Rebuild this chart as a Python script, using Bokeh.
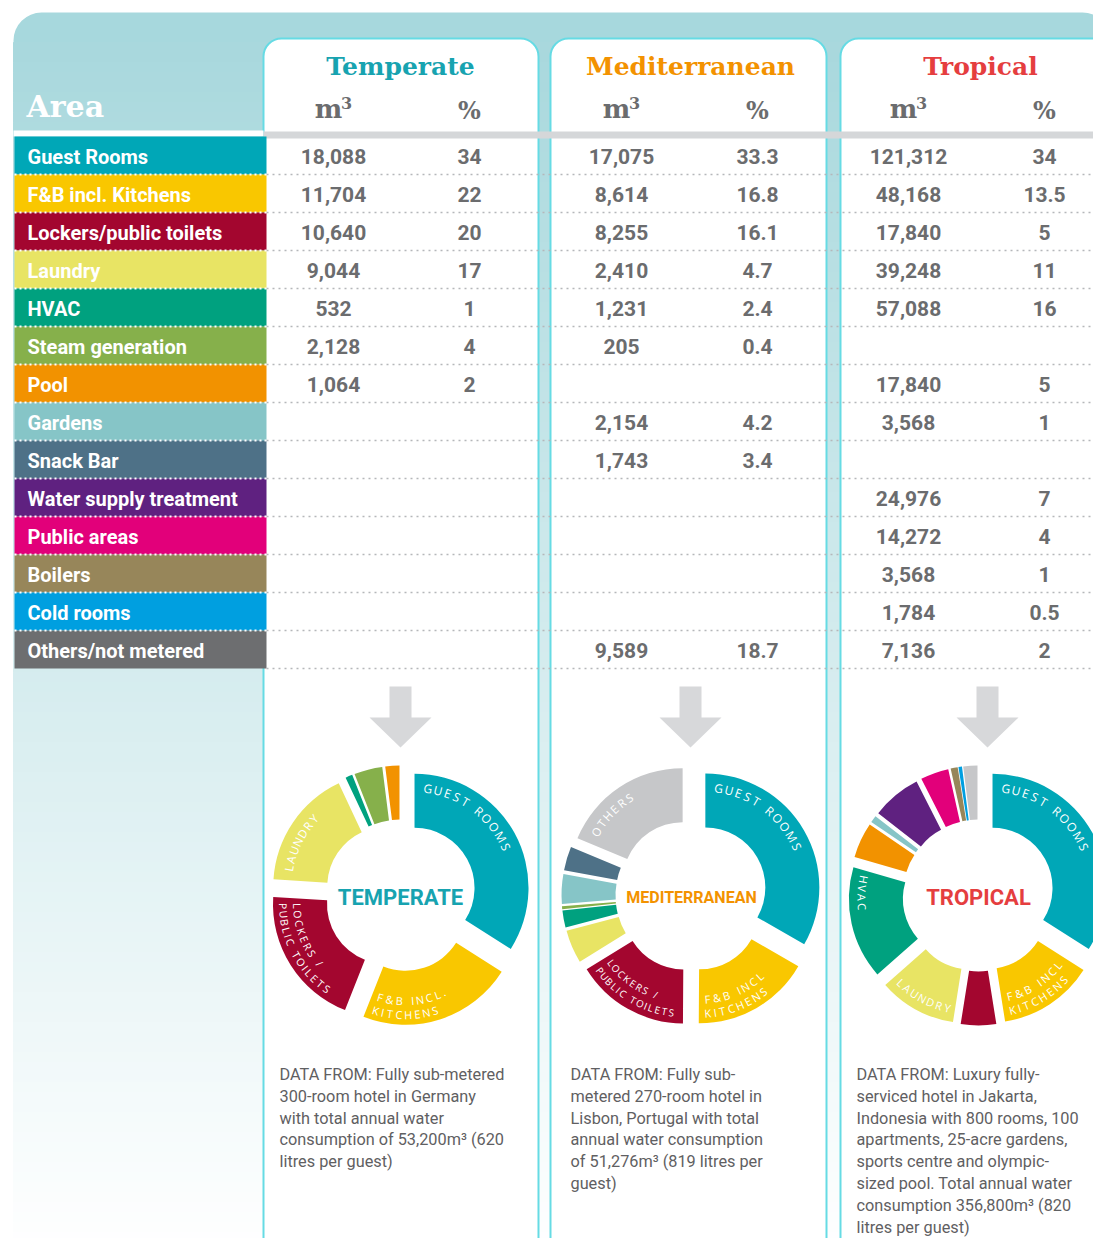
import math
import numpy as np
from bokeh.plotting import figure
from bokeh.models import Range1d
from bokeh.embed import file_html
from bokeh.resources import INLINE
from bokeh.core.properties import value

# ---------------- data ----------------
categories = ["Guest Rooms", "F&B incl. Kitchens", "Lockers/public toilets", "Laundry", "HVAC",
              "Steam generation", "Pool", "Gardens", "Snack Bar", "Water supply treatment",
              "Public areas", "Boilers", "Cold rooms", "Others/not metered"]
cat_colors = ["#00a7b7", "#f9c700", "#a3062f", "#e8e464", "#00a17f", "#86b04b", "#f29200",
              "#86c5c7", "#4e7187", "#5f2180", "#e2007a", "#97865a", "#009fe0", "#6d6e70"]
donut_colors = cat_colors[:-1] + ["#c6c7c9"]

climates = ["Temperate", "Mediterranean", "Tropical"]
climate_colors = ["#17a3b0", "#f39200", "#e53e3f"]
donut_titles = ["TEMPERATE", "MEDITERRANEAN", "TROPICAL"]

temperate_m3 = [18088, 11704, 10640, 9044, 532, 2128, 1064, None, None, None, None, None, None, None]
temperate_pct = [34, 22, 20, 17, 1, 4, 2, None, None, None, None, None, None, None]
mediterranean_m3 = [17075, 8614, 8255, 2410, 1231, 205, None, 2154, 1743, None, None, None, None, 9589]
mediterranean_pct = [33.3, 16.8, 16.1, 4.7, 2.4, 0.4, None, 4.2, 3.4, None, None, None, None, 18.7]
tropical_m3 = [121312, 48168, 17840, 39248, 57088, None, 17840, 3568, None, 24976, 14272, 3568, 1784, 7136]
tropical_pct = [34, 13.5, 5, 11, 16, None, 5, 1, None, 7, 4, 1, 0.5, 2]

m3_data = [temperate_m3, mediterranean_m3, tropical_m3]
pct_data = [temperate_pct, mediterranean_pct, tropical_pct]

notes = [
    ["DATA FROM: Fully sub-metered", "300-room hotel in Germany", "with total annual water",
     "consumption of 53,200m³ (620", "litres per guest)"],
    ["DATA FROM: Fully sub-", "metered 270-room hotel in", "Lisbon, Portugal with total",
     "annual water consumption", "of 51,276m³ (819 litres per", "guest)"],
    ["DATA FROM: Luxury fully-", "serviced hotel in Jakarta,", "Indonesia with 800 rooms, 100",
     "apartments, 25-acre gardens,", "sports centre and olympic-", "sized pool.  Total annual water",
     "consumption 356,800m³ (820", "litres per guest)"],
]

# wedge labels: (category index, lines, mode, font size, tracking)
wedge_labels = [
    [(0, ["GUEST ROOMS"], "cw", 12, 0.16), (1, ["F&B INCL.", "KITCHENS"], "ccw", 11, 0.16),
     (2, ["LOCKERS /", "PUBLIC TOILETS"], "ccw", 10.5, 0.12), (3, ["LAUNDRY"], "cw", 11.5, 0.16)],
    [(0, ["GUEST ROOMS"], "cw", 12, 0.16), (1, ["F&B INCL", "KITCHENS"], "ccw", 11, 0.16),
     (2, ["LOCKERS /", "PUBLIC TOILETS"], "ccw", 9.8, 0.08), (13, ["OTHERS"], "cw", 11.5, 0.16)],
    [(0, ["GUEST ROOMS"], "cw", 12, 0.16), (1, ["F&B INCL", "KITCHENS"], "ccw", 11, 0.16),
     (3, ["LAUNDRY"], "ccw", 11, 0.16), (4, ["HVAC"], "ccw", 11, 0.16)],
]

# ---------------- layout constants (image pixel coordinates) ----------------
H = 1254
def Y(v):
    return H - np.asarray(v, dtype=float)

col_left = [263, 550, 840]
col_right = [538, 826, 1114]
title_x = [400, 690, 980]
m3_x = [333, 621, 908]
pct_x = [469, 757, 1044]
donut_cx = [400, 691, 978]
donut_cy = 895
R_OUT, R_IN, EXPLODE = 114, 60, 16
row_top0, row_h = 136, 38

NUM_FONT = value("Roboto")
SERIF = value("DejaVu Serif")
GRAY = "#6b6c6e"

p = figure(width=1093, height=1238, x_range=Range1d(0, 1093), y_range=Range1d(16, 1254),
           output_backend="svg", toolbar_location=None, min_border=0,
           x_axis_type=None, y_axis_type=None)
p.grid.visible = False
p.outline_line_color = None
p.background_fill_color = "white"
p.border_fill_color = "white"

# ---------------- background gradient frame ----------------
top_c = np.array([166, 215, 220])
bot_c = np.array([255, 255, 255])
def grad(yimg):
    t = min(max((yimg - 12) / (1254 - 12), 0), 1)
    c = top_c + (bot_c - top_c) * t
    return "#%02x%02x%02x" % tuple(int(round(v)) for v in c)

p.quad(left=13, right=1110, top=Y(12), bottom=Y(80), fill_color=grad(30), line_color=None,
       border_radius=28)
edges = np.linspace(42, 1262, 123)
band_cols = [grad((edges[i] + edges[i + 1]) / 2) for i in range(len(edges) - 1)]
p.quad(left=13, right=1110, top=Y(edges[:-1]), bottom=Y(edges[1:]), fill_color=band_cols,
       line_color=band_cols, line_width=1)

# column panels
p.quad(left=col_left, right=col_right, top=Y(38), bottom=Y(1300), fill_color="white",
       line_color="#66dbe4", line_width=2, border_radius=18)

# header lines
p.quad(left=13, right=263, top=Y(130), bottom=Y(136), fill_color="white", line_color=None)
p.quad(left=263, right=1112, top=Y(131), bottom=Y(138), fill_color="#d5d7d9", line_color=None)

# ---------------- header texts ----------------
p.text(x=[26], y=Y([106]), text=["Area"], text_font=SERIF, text_font_style="bold",
       text_font_size="30px", text_color="white", text_align="left", text_baseline="middle")
p.text(x=title_x, y=Y([66, 66, 66]), text=climates, text_font=SERIF, text_font_style="bold",
       text_font_size="25px", text_color=climate_colors, text_align="center",
       text_baseline="middle")
p.text(x=[x - 5 for x in m3_x], y=Y([108] * 3), text=["m"] * 3, text_font=SERIF,
       text_font_style="bold", text_font_size="26px", text_color=GRAY, text_align="center",
       text_baseline="middle")
p.text(x=[x + 13 for x in m3_x], y=Y([102] * 3), text=["3"] * 3, text_font=SERIF,
       text_font_style="bold", text_font_size="16px", text_color=GRAY, text_align="center",
       text_baseline="middle")
p.text(x=pct_x, y=Y([110] * 3), text=["%"] * 3, text_font=SERIF, text_font_style="bold",
       text_font_size="24px", text_color=GRAY, text_align="center", text_baseline="middle")

# ---------------- table rows ----------------
n = len(categories)
tops = [row_top0 + row_h * i for i in range(n)]
p.quad(left=14, right=266, top=Y(tops), bottom=Y([t + row_h for t in tops]),
       fill_color=cat_colors, line_color=None)
centers = [t + row_h / 2 for t in tops]
p.text(x=[27] * n, y=Y([c + 1 for c in centers]), text=categories, text_font=NUM_FONT,
       text_font_style="bold", text_font_size="20px", text_color="white", text_align="left",
       text_baseline="middle")

# row separators
bounds = [row_top0 + row_h * i for i in range(1, n + 1)]
p.multi_line(xs=[[266, 1112]] * len(bounds), ys=[[Y(b), Y(b)] for b in bounds],
             line_color="#b5b7ba", line_width=1.5, line_dash="2 4")
p.multi_line(xs=[[14, 266]] * (n - 1), ys=[[Y(b), Y(b)] for b in bounds[:-1]],
             line_color="white", line_width=2, line_dash="2 3")

def fmt_pct(v):
    return str(int(v)) if float(v).is_integer() else str(v)

for k in range(3):
    xs, ys, txt = [], [], []
    for i in range(n):
        if m3_data[k][i] is not None:
            xs.append(m3_x[k]); ys.append(centers[i] + 1); txt.append(f"{m3_data[k][i]:,}")
        if pct_data[k][i] is not None:
            xs.append(pct_x[k]); ys.append(centers[i] + 1); txt.append(fmt_pct(pct_data[k][i]))
    p.text(x=xs, y=Y(ys), text=txt, text_font=NUM_FONT, text_font_style="bold",
           text_font_size="21px", text_color=GRAY, text_align="center", text_baseline="middle")

# ---------------- arrows ----------------
arrow_xs, arrow_ys = [], []
for ax in [400, 690, 987]:
    xs = [ax - 11, ax + 11, ax + 11, ax + 31, ax, ax - 31, ax - 11]
    ys = [686, 686, 717, 717, 747, 717, 717]
    arrow_xs.append(xs); arrow_ys.append(list(Y(ys)))
p.patches(xs=arrow_xs, ys=arrow_ys, fill_color="#d7d8da", line_color=None)

# ---------------- donuts ----------------
def char_w(ch, fs, track):
    table = {' ': 0.40, 'I': 0.34, '.': 0.34, '/': 0.48, 'M': 0.9, 'W': 0.95, '&': 0.78,
             'O': 0.78, 'C': 0.7, 'G': 0.76, 'L': 0.58}
    return (table.get(ch, 0.66) + track) * fs

def arc_text(cx, cy, r, start_deg, text, fs, mode, track):
    xs, ys, angs, chars = [], [], [], []
    s = 0.0
    sign = -1 if mode == "cw" else 1
    for ch in text:
        w = char_w(ch, fs, track)
        a = math.radians(start_deg) + sign * (s + w / 2) / r
        s += w
        if ch == " ":
            continue
        xs.append(cx + r * math.cos(a))
        ys.append(float(Y(cy)) + r * math.sin(a))
        angs.append(a - math.pi / 2 if mode == "cw" else a + math.pi / 2)
        chars.append(ch)
    p.text(x=xs, y=ys, text=chars, angle=angs, text_align="center", text_baseline="middle",
           text_font=value("Open Sans"), text_font_size=f"{fs}px", text_color="white")

for k in range(3):
    cum = 0.0
    wx, wy, sa, ea, cols = [], [], [], [], []
    geo = {}
    for i in range(n):
        v = pct_data[k][i]
        if v is None:
            continue
        a_start = 90 - cum * 3.6
        a_end = 90 - (cum + v) * 3.6
        cum += v
        b = math.radians((a_start + a_end) / 2)
        cx = donut_cx[k] + EXPLODE * math.cos(b)
        cy_img = donut_cy - EXPLODE * math.sin(b)
        wx.append(cx); wy.append(float(Y(cy_img)))
        sa.append(a_end); ea.append(a_start); cols.append(donut_colors[i])
        geo[i] = (cx, cy_img, a_start, a_end)
    p.annular_wedge(x=wx, y=wy, inner_radius=R_IN, outer_radius=R_OUT, start_angle=sa,
                    end_angle=ea, start_angle_units="deg", end_angle_units="deg",
                    direction="anticlock", fill_color=cols, line_color=None)
    for (ci, lines, mode, fs, track) in wedge_labels[k]:
        cx, cy_img, a_start, a_end = geo[ci]
        if mode == "cw":
            arc_text(cx, cy_img, 100, a_start - 4.5, lines[0], fs, "cw", track)
        else:
            radii = [90, 104] if len(lines) == 2 else [101]
            for line, r in zip(lines, radii):
                arc_text(cx, cy_img, r, a_end + 2.5, line, fs, "ccw", track)

p.text(x=donut_cx, y=Y([897, 897, 897]), text=donut_titles, text_font=NUM_FONT,
       text_font_style="bold", text_font_size=["22px", "16px", "22px"],
       text_color=climate_colors, text_align="center", text_baseline="middle")

# ---------------- notes ----------------
note_x = [279, 570, 856]
for k in range(3):
    lines = notes[k]
    p.text(x=[note_x[k]] * len(lines), y=Y([1074 + 21.8 * j for j in range(len(lines))]),
           text=lines, text_font=NUM_FONT, text_font_size="16.3px", text_color="#5f6062",
           text_align="left", text_baseline="middle")

open("out.html", "w").write(file_html(p, INLINE))
